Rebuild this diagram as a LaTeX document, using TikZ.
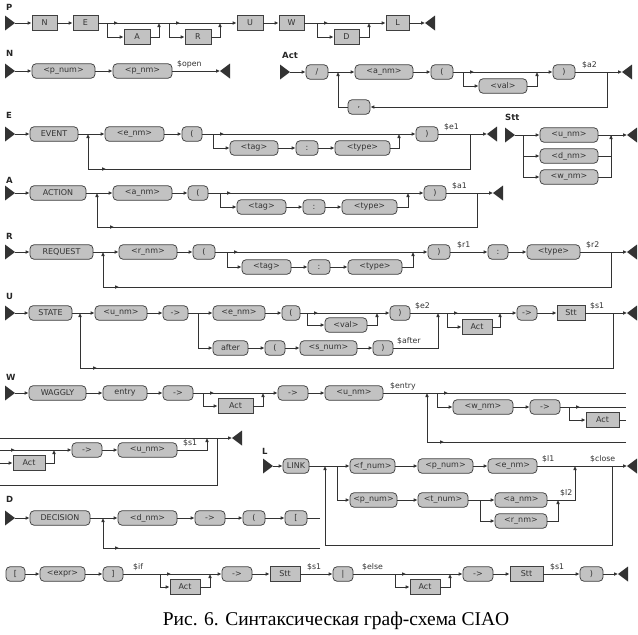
\documentclass[tikz,border=0pt]{standalone}
\usepackage{fontspec}
\usetikzlibrary{arrows.meta}
\newfontfamily\dvs{DejaVu Sans}
\newfontfamily\tms{Liberation Serif}
\definecolor{ln}{HTML}{333333}
\definecolor{bx}{HTML}{C2C2C2}
\definecolor{bd}{HTML}{404040}
\newcommand\bxf{\dvs\fontsize{8}{9}\selectfont}
\newcommand\lbf{\dvs\fontsize{7.8}{9}\selectfont}
\newcommand\hdf{\dvs\bfseries\fontsize{8.5}{9}\selectfont}
\tikzset{
  cn/.style={draw=ln, line width=0.8pt},
  arr/.style={cn, -{Latex[length=4pt,width=3.8pt]}},
  term/.style={draw=bd, fill=bx, rounded corners=4pt, minimum height=14.5pt, inner sep=0pt, font=\bxf, line width=0.75pt, text=black!80},
  nterm/.style={draw=bd, fill=bx, minimum height=14.5pt, inner sep=0pt, font=\bxf, line width=0.75pt, text=black!80},
  lbl/.style={font=\lbf, inner sep=0pt, anchor=south west, text=black!80},
  hdr/.style={font=\hdf, inner sep=0pt, anchor=west, text=black!85},
}
\newcommand\T[5]{\pgfmathsetmacro\ww{#3-#2}\node[term,minimum width=\ww pt] (#1) at ({(#2+#3)/2},#4) {#5};}
\newcommand\NT[5]{\pgfmathsetmacro\ww{#3-#2}\node[nterm,minimum width=\ww pt] (#1) at ({(#2+#3)/2},#4) {#5};}
\newcommand\Start[3]{\fill[ln] (#2,#3-7.5) -- (#2+10,#3) -- (#2,#3+7.5) -- cycle; \coordinate (#1) at (#2+10,#3);}
\newcommand\Finish[3]{\fill[ln] (#2,#3) -- (#2+10,#3-7.5) -- (#2+10,#3+7.5) -- cycle; \coordinate (#1) at (#2,#3);}
\newcommand\Mk[2]{\draw[arr] (#1) -- ++(#2,0);}
\begin{document}
\begin{tikzpicture}[x=1pt,y=-1pt]
\useasboundingbox (0,0) rectangle (638,635);
% ---------------- P
\node[hdr] (hP) at (6,7) {P};
\Start{Ps}{5}{23}
\NT{PN}{32}{57}{23}{N}
\NT{PE}{73}{98}{23}{E}
\NT{PA}{124}{150}{37}{A}
\NT{PR}{185}{211}{37}{R}
\NT{PU}{237}{263}{23}{U}
\NT{PW}{279}{304}{23}{W}
\NT{PD}{334}{359}{37}{D}
\NT{PL}{386}{409}{23}{L}
\Finish{Pe}{425}{23}
\coordinate (Pb1) at (107,23); \coordinate (Pm1) at (159,23);
\coordinate (Pb2) at (169,23); \coordinate (Pm2) at (220,23);
\coordinate (Pb3) at (317,23); \coordinate (Pm3) at (369,23);
\draw[arr] (Ps) -- (PN);
\draw[arr] (PN) -- (PE);
\draw[arr] (PE) -- (PU);
\draw[arr] (PU) -- (PW);
\draw[arr] (PW) -- (PL);
\draw[arr] (PL) -- (Pe);
\Mk{Pb1}{11} \Mk{Pb2}{11} \Mk{Pb3}{11}
\draw[arr] (Pb1) |- (PA); \draw[arr] (PA) -| (Pm1);
\draw[arr] (Pb2) |- (PR); \draw[arr] (PR) -| (Pm2);
\draw[arr] (Pb3) |- (PD); \draw[arr] (PD) -| (Pm3);
% ---------------- N
\node[hdr] (hN) at (6,53) {N};
\Start{Ns}{5}{71}
\T{Npn}{32}{95}{71}{<p\_num>}
\T{Npm}{113}{172}{71}{<p\_nm>}
\node[lbl] (lopen) at (177,68) {\$open};
\Finish{Ne}{220}{71}
\draw[arr] (Ns) -- (Npn);
\draw[arr] (Npn) -- (Npm);
\draw[arr] (Npm) -- (Ne);
% ---------------- Act
\node[hdr] (hAct) at (282,55) {Act};
\Start{As}{280}{72}
\T{Asl}{306}{328}{72}{/}
\coordinate (Aj) at (338,72);
\T{Aan}{355}{413}{72}{<a\_nm>}
\T{Alp}{431}{453}{72}{(}
\coordinate (Ab) at (463,72); \coordinate (Am) at (537,72);
\T{Aval}{479}{527}{86}{<val>}
\T{Arp}{553}{575}{72}{)}
\node[lbl] (la2) at (582,69) {\$a2};
\coordinate (Al) at (607,72);
\T{Acm}{348}{370}{107}{,}
\Finish{Ae}{622}{72}
\draw[arr] (As) -- (Asl);
\draw[arr] (Asl) -- (Aan);
\draw[arr] (Aan) -- (Alp);
\draw[arr] (Alp) -- (Arp);
\Mk{Ab}{11}
\draw[arr] (Ab) |- (Aval); \draw[arr] (Aval) -| (Am);
\draw[arr] (Arp) -- (Ae);
\draw[arr] (Al) |- (Acm);
\draw[arr] (Acm) -| (Aj);
% ---------------- Stt
\node[hdr] (hStt) at (505,117) {Stt};
\Start{Ss}{505}{135}
\coordinate (Sb) at (523,135); \coordinate (Sm) at (611,135);
\T{Su}{540}{598}{135}{<u\_nm>}
\T{Sd}{540}{598}{156}{<d\_nm>}
\T{Sw}{540}{598}{177}{<w\_nm>}
\Finish{Se}{627}{135}
\draw[arr] (Ss) -- (Su);
\draw[arr] (Sb) |- (Sd); \draw[arr] (Sb) |- (Sw);
\draw[cn] (Sd) -| (Sm); \draw[arr] (Sw) -| (Sm);
\draw[arr] (Su) -- (Se);
% ---------------- E
\node[hdr] (hE) at (6,115) {E};
\Start{Es}{5}{134}
\T{Eev}{30}{78}{134}{EVENT}
\coordinate (Ej) at (88,134); \coordinate (Ejb) at (88,169);
\T{Een}{105}{164}{134}{<e\_nm>}
\T{Elp}{182}{202}{134}{(}
\coordinate (Eb) at (213,134); \coordinate (Em) at (399,134);
\T{Etag}{230}{278}{148}{<tag>}
\T{Ecol}{296}{318}{148}{:}
\T{Ety}{335}{390}{148}{<type>}
\T{Erp}{416}{438}{134}{)}
\node[lbl] (le1) at (444,131) {\$e1};
\coordinate (El) at (470,134);
\Finish{Ee}{487}{134}
\draw[arr] (Es) -- (Eev);
\draw[arr] (Eev) -- (Een);
\draw[arr] (Een) -- (Elp);
\draw[arr] (Elp) -- (Erp);
\Mk{Eb}{11}
\draw[arr] (Eb) |- (Etag); \draw[arr] (Etag) -- (Ecol); \draw[arr] (Ecol) -- (Ety); \draw[arr] (Ety) -| (Em);
\draw[arr] (Erp) -- (Ee);
\draw[cn] (El) |- (Ejb); \draw[arr] (Ejb) -- (Ej); \Mk{Ejb}{18}
% ---------------- A
\node[hdr] (hA) at (6,180) {A};
\Start{Xs}{5}{193}
\T{Xac}{30}{86}{193}{ACTION}
\coordinate (Xj) at (97,193); \coordinate (Xjb) at (97,227);
\T{Xan}{113}{172}{193}{<a\_nm>}
\T{Xlp}{188}{208}{193}{(}
\coordinate (Xb) at (220,193); \coordinate (Xm) at (408,193);
\T{Xtag}{237}{286}{207}{<tag>}
\T{Xcol}{303}{325}{207}{:}
\T{Xty}{342}{397}{207}{<type>}
\T{Xrp}{424}{446}{193}{)}
\node[lbl] (la1) at (452,190) {\$a1};
\coordinate (Xl) at (477,193);
\Finish{Xe}{493}{193}
\draw[arr] (Xs) -- (Xac);
\draw[arr] (Xac) -- (Xan);
\draw[arr] (Xan) -- (Xlp);
\draw[arr] (Xlp) -- (Xrp);
\Mk{Xb}{11}
\draw[arr] (Xb) |- (Xtag); \draw[arr] (Xtag) -- (Xcol); \draw[arr] (Xcol) -- (Xty); \draw[arr] (Xty) -| (Xm);
\draw[arr] (Xrp) -- (Xe);
\draw[cn] (Xl) |- (Xjb); \draw[arr] (Xjb) -- (Xj); \Mk{Xjb}{17}
% ---------------- R
\node[hdr] (hR) at (6,236) {R};
\Start{Rs}{5}{252}
\T{Rrq}{30}{93}{252}{REQUEST}
\coordinate (Rj) at (103,252); \coordinate (Rjb) at (103,287);
\T{Rrn}{119}{177}{252}{<r\_nm>}
\T{Rlp}{193}{215}{252}{(}
\coordinate (Rb) at (227,252); \coordinate (Rm) at (413,252);
\T{Rtag}{242}{291}{267}{<tag>}
\T{Rcol}{308}{330}{267}{:}
\T{Rty}{348}{402}{267}{<type>}
\T{Rrp}{428}{450}{252}{)}
\node[lbl] (lr1) at (457,249) {\$r1};
\T{Rc2}{488}{508}{252}{:}
\T{Rty2}{527}{580}{252}{<type>}
\node[lbl] (lr2) at (586,249) {\$r2};
\coordinate (Rl) at (611,252);
\Finish{Re}{627}{252}
\draw[arr] (Rs) -- (Rrq);
\draw[arr] (Rrq) -- (Rrn);
\draw[arr] (Rrn) -- (Rlp);
\draw[arr] (Rlp) -- (Rrp);
\Mk{Rb}{11}
\draw[arr] (Rb) |- (Rtag); \draw[arr] (Rtag) -- (Rcol); \draw[arr] (Rcol) -- (Rty); \draw[arr] (Rty) -| (Rm);
\draw[arr] (Rrp) -- (Rc2);
\draw[arr] (Rc2) -- (Rty2);
\draw[arr] (Rty2) -- (Re);
\draw[cn] (Rl) |- (Rjb); \draw[arr] (Rjb) -- (Rj); \Mk{Rjb}{16}
% ---------------- U
\node[hdr] (hU) at (6,296) {U};
\Start{Us}{5}{313}
\T{Ust}{29}{72}{313}{STATE}
\coordinate (Uj) at (80,313); \coordinate (Ujb) at (80,368);
\T{Uun}{95}{147}{313}{<u\_nm>}
\T{Uar}{163}{188}{313}{->}
\coordinate (Ub) at (198,313);
\T{Uen}{213}{265}{313}{<e\_nm>}
\T{Ulp}{282}{300}{313}{(}
\coordinate (Ub2) at (307,313); \coordinate (Um2) at (377,313);
\T{Uval}{325}{367}{325}{<val>}
\T{Urp}{390}{410}{313}{)}
\node[lbl] (le2) at (415,310) {\$e2};
\coordinate (Um) at (438,313);
\T{Uaf}{213}{248}{348}{after}
\T{Ulp2}{265}{285}{348}{(}
\T{Usn}{300}{357}{348}{<s\_num>}
\T{Urp2}{373}{393}{348}{)}
\node[lbl] (lafter) at (397,345) {\$after};
\coordinate (Ub3) at (447,313); \coordinate (Um3) at (500,313);
\NT{Uact}{462}{492}{327}{Act}
\T{Uar2}{517}{537}{313}{->}
\NT{Ustt}{557}{585}{313}{Stt}
\node[lbl] (ls1a) at (590,310) {\$s1};
\coordinate (Ul) at (613,313);
\Finish{Ue}{627}{313}
\draw[arr] (Us) -- (Ust);
\draw[arr] (Ust) -- (Uun);
\draw[arr] (Uun) -- (Uar);
\draw[arr] (Uar) -- (Uen);
\draw[arr] (Uen) -- (Ulp);
\draw[arr] (Ulp) -- (Urp);
\Mk{Ub2}{11}
\draw[arr] (Ub2) |- (Uval); \draw[arr] (Uval) -| (Um2);
\draw[arr] (Ub) |- (Uaf);
\draw[arr] (Uaf) -- (Ulp2);
\draw[arr] (Ulp2) -- (Usn);
\draw[arr] (Usn) -- (Urp2);
\draw[arr] (Urp2) -| (Um);
\draw[arr] (Urp) -- (Uar2);
\Mk{Ub3}{11}
\draw[arr] (Ub3) |- (Uact); \draw[arr] (Uact) -| (Um3);
\draw[arr] (Uar2) -- (Ustt);
\draw[arr] (Ustt) -- (Ue);
\draw[cn] (Ul) |- (Ujb); \draw[arr] (Ujb) -- (Uj); \Mk{Ujb}{17}
% ---------------- W
\node[hdr] (hW) at (6,377) {W};
\Start{Ws}{5}{393}
\T{Wwg}{29}{86}{393}{WAGGLY}
\T{Wen}{103}{147}{393}{entry}
\T{War}{163}{193}{393}{->}
\coordinate (Wb) at (203,393); \coordinate (Wm) at (263,393);
\NT{Wact}{218}{253}{406}{Act}
\T{War2}{278}{308}{393}{->}
\T{Wun}{325}{383}{393}{<u\_nm>}
\node[lbl] (lentry) at (390,390) {\$entry};
\coordinate (Wj) at (427,393); \coordinate (Wjb) at (427,442);
\coordinate (Wb2) at (437,393);
\T{Wwn}{453}{513}{407}{<w\_nm>}
\T{War3}{530}{560}{407}{->}
\coordinate (Wb3) at (569,407);
\NT{Wact2}{586}{619}{420}{Act}
\coordinate (Wr1) at (626,393); \coordinate (Wr2) at (626,407);
\coordinate (Wr3) at (626,420); \coordinate (Wr4) at (626,442);
\draw[arr] (Ws) -- (Wwg);
\draw[arr] (Wwg) -- (Wen);
\draw[arr] (Wen) -- (War);
\draw[arr] (War) -- (War2);
\Mk{Wb}{11}
\draw[arr] (Wb) |- (Wact); \draw[arr] (Wact) -| (Wm);
\draw[arr] (War2) -- (Wun);
\draw[cn] (Wun) -- (Wr1);
\Mk{Wb2}{11}
\draw[arr] (Wb2) |- (Wwn); \draw[arr] (Wwn) -- (War3); \draw[cn] (War3) -- (Wr2);
\Mk{Wb3}{11}
\draw[arr] (Wb3) |- (Wact2); \draw[cn] (Wact2) -- (Wr3);
\draw[cn] (Wr4) -- (Wjb); \draw[arr] (Wjb) -- (Wj); \Mk{Wjb}{17}
% W continued
\coordinate (Wc1) at (0,438); \coordinate (Wc2) at (0,450);
\coordinate (Wc3) at (0,463); \coordinate (Wc4) at (0,485);
\coordinate (Wm4) at (54,450); \coordinate (Wj3) at (207,438);
\coordinate (Wv1) at (217,438); \coordinate (Wv2) at (217,485);
\T{War4}{72}{102}{450}{->}
\T{Wun2}{118}{177}{450}{<u\_nm>}
\node[lbl] (ls1b) at (183,447) {\$s1};
\NT{Wact3}{13}{45}{463}{Act}
\Finish{We}{232}{438}
\draw[arr] (Wc1) -- (We);
\draw[arr] (Wc2) -- (War4); \Mk{Wc2}{15}
\draw[arr] (Wc3) -- (Wact3); \draw[arr] (Wact3) -| (Wm4);
\draw[arr] (War4) -- (Wun2);
\draw[arr] (Wun2) -| (Wj3);
\draw[cn] (Wv1) -- (Wv2) -- (Wc4);
% ---------------- L
\node[hdr] (hL) at (262,451) {L};
\Start{Ls}{263}{466}
\T{Llk}{283}{309}{466}{LINK}
\coordinate (Lj) at (325,466); \coordinate (Ljb) at (325,545);
\coordinate (Lb) at (337,466);
\T{Lfn}{350}{395}{466}{<f\_num>}
\T{Lpn}{418}{473}{466}{<p\_num>}
\T{Len}{488}{537}{466}{<e\_nm>}
\node[lbl] (ll1) at (542,463) {\$l1};
\T{Lpn2}{350}{397}{500}{<p\_num>}
\T{Ltn}{418}{468}{500}{<t\_num>}
\coordinate (Lb2) at (480,500);
\T{Lan}{495}{547}{500}{<a\_nm>}
\T{Lrn}{495}{547}{521}{<r\_nm>}
\coordinate (Lm2) at (558,500);
\node[lbl] (ll2) at (560,497) {\$l2};
\coordinate (Lm) at (575,466);
\node[lbl] (lclose) at (590,463) {\$close};
\coordinate (Ll) at (612,466);
\Finish{Le}{627}{466}
\draw[arr] (Ls) -- (Llk);
\draw[arr] (Llk) -- (Lfn);
\draw[arr] (Lfn) -- (Lpn);
\draw[arr] (Lpn) -- (Len);
\draw[arr] (Len) -- (Le);
\draw[arr] (Lb) |- (Lpn2);
\draw[arr] (Lpn2) -- (Ltn);
\draw[arr] (Ltn) -- (Lan);
\draw[arr] (Lb2) |- (Lrn);
\draw[cn] (Lan) -- (Lm2);
\draw[arr] (Lrn) -| (Lm2);
\draw[arr] (Lm2) -| (Lm);
\draw[cn] (Ll) |- (Ljb); \draw[arr] (Ljb) -- (Lj);
% ---------------- D
\node[hdr] (hD) at (6,499) {D};
\Start{Ds}{5}{518}
\T{Ddc}{30}{90}{518}{DECISION}
\coordinate (Dj) at (103,518); \coordinate (Djb) at (103,548);
\T{Ddn}{118}{177}{518}{<d\_nm>}
\T{Dar}{195}{225}{518}{->}
\T{Dlp}{243}{265}{518}{(}
\T{Dlb}{285}{307}{518}{[}
\coordinate (Dr1) at (320,518); \coordinate (Dr2) at (320,548);
\draw[arr] (Ds) -- (Ddc);
\draw[arr] (Ddc) -- (Ddn);
\draw[arr] (Ddn) -- (Dar);
\draw[arr] (Dar) -- (Dlp);
\draw[arr] (Dlp) -- (Dlb);
\draw[cn] (Dlb) -- (Dr1);
\draw[cn] (Dr2) -- (Djb); \draw[arr] (Djb) -- (Dj); \Mk{Djb}{16}
% ---------------- D continued
\T{Blb}{6}{25}{574}{[}
\T{Bex}{40}{85}{574}{<expr>}
\T{Brb}{103}{123}{574}{]}
\node[lbl] (lif) at (133,571) {\$if};
\coordinate (Bb) at (160,574); \coordinate (Bm) at (210,574);
\NT{Bact}{170}{200}{587}{Act}
\T{Bar}{222}{252}{574}{->}
\NT{Bst}{270}{300}{574}{Stt}
\node[lbl] (ls1c) at (307,571) {\$s1};
\T{Bbar}{333}{353}{574}{|}
\node[lbl] (lelse) at (362,571) {\$else};
\coordinate (Bb2) at (395,574); \coordinate (Bm2) at (450,574);
\NT{Bact2}{410}{440}{587}{Act}
\T{Bar2}{463}{493}{574}{->}
\NT{Bst2}{510}{543}{574}{Stt}
\node[lbl] (ls1d) at (550,571) {\$s1};
\T{Brp}{580}{603}{574}{)}
\Finish{Be}{618}{574}
\draw[arr] (Blb) -- (Bex);
\draw[arr] (Bex) -- (Brb);
\draw[arr] (Brb) -- (Bar);
\Mk{Bb}{11}
\draw[arr] (Bb) |- (Bact); \draw[arr] (Bact) -| (Bm);
\draw[arr] (Bar) -- (Bst);
\draw[arr] (Bst) -- (Bbar);
\draw[arr] (Bbar) -- (Bar2);
\Mk{Bb2}{11}
\draw[arr] (Bb2) |- (Bact2); \draw[arr] (Bact2) -| (Bm2);
\draw[arr] (Bar2) -- (Bst2);
\draw[arr] (Bst2) -- (Brp);
\draw[arr] (Brp) -- (Be);
% ---------------- caption
\node[font=\tms\fontsize{19.5}{21}\selectfont, inner sep=0pt] (cap) at (336,621) {Рис. 6. Синтаксическая граф-схема CIAO};
\end{tikzpicture}
\end{document}
